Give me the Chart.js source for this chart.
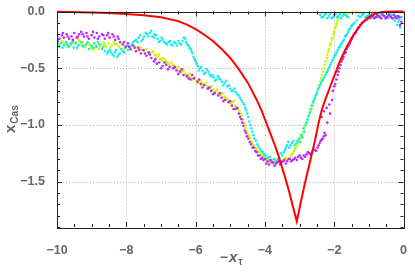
<!DOCTYPE html>
<html>
<head>
<meta charset="UTF-8">
<script src="https://cdn.jsdelivr.net/npm/chart.js@4.4.1/dist/chart.umd.min.js"></script>
<style>
  body { margin: 0; background: #fff; }
  canvas { display: block; }
</style>
</head>
<body>
<canvas id="mychart" width="415" height="274"></canvas>
<script>
// tick values
const xTicks = [-10, -8, -6, -4, -2, 0];
const yTicks = [0, -0.5, -1, -1.5];

// red curve
const curveX = [-10, -9, -8.5, -8, -7.5, -7, -6.5, -6.25, -6, -5.75, -5.5, -5.25, -5, -4.75, -4.5, -4.25, -4.1, -4, -3.9, -3.8, -3.7, -3.6, -3.5, -3.4, -3.3, -3.2, -3.08,
  -2.95, -2.85, -2.75, -2.65, -2.55, -2.45, -2.35, -2.25, -2.15, -2.05, -1.95, -1.85, -1.75, -1.65, -1.5, -1.35, -1.2, -1.05, -0.9, -0.75, -0.6, -0.4, 0];
const curveY = [-0.003, -0.008, -0.014, -0.022, -0.033, -0.05, -0.085, -0.115, -0.155, -0.205, -0.26, -0.33, -0.41, -0.51, -0.625, -0.77, -0.87, -0.95, -1.03, -1.11, -1.19, -1.28, -1.38, -1.48, -1.59, -1.71, -1.85,
  -1.66, -1.52, -1.39, -1.26, -1.13, -0.98, -0.86, -0.77, -0.69, -0.61, -0.53, -0.45, -0.38, -0.32, -0.235, -0.165, -0.105, -0.06, -0.03, -0.012, -0.004, 0, 0];

// scatter series
const purplePts = [[-10.0,-0.22],[-9.93,-0.24],[-9.86,-0.21],[-9.8,-0.23],[-9.72,-0.2],[-9.65,-0.24],[-9.58,-0.22],[-9.5,-0.19],[-9.43,-0.23],[-9.36,-0.2],[-9.3,-0.18],[-9.22,-0.22],[-9.15,-0.19],[-9.08,-0.24],[-9.0,-0.21],[-8.92,-0.23],[-8.85,-0.19],[-8.78,-0.22],[-8.7,-0.2],[-8.62,-0.24],[-8.55,-0.21],[-8.48,-0.23],[-8.4,-0.2],[-8.32,-0.25],[-8.25,-0.22],[-8.18,-0.27],[-8.1,-0.29],[-8.02,-0.31],[-7.95,-0.28],[-7.88,-0.33],[-7.8,-0.3],[-7.72,-0.35],[-7.65,-0.32],[-7.58,-0.37],[-7.5,-0.34],[-7.42,-0.39],[-7.35,-0.36],[-7.28,-0.41],[-7.2,-0.44],[-7.12,-0.46],[-7.05,-0.45],[-6.95,-0.48],[-6.85,-0.47],[-6.75,-0.49],[-6.65,-0.5],[-6.55,-0.52],[-6.45,-0.53],[-6.35,-0.56],[-6.25,-0.57],[-6.15,-0.6],[-6.05,-0.59],[-5.95,-0.62],[-5.85,-0.64],[-5.75,-0.65],[-5.65,-0.68],[-5.55,-0.7],[-5.45,-0.72],[-5.35,-0.74],[-5.25,-0.76],[-5.15,-0.78],[-5.05,-0.8],[-4.95,-0.83],[-4.85,-0.86],[-4.75,-0.9],[-4.68,-0.95],[-4.62,-1.01],[-4.55,-1.07],[-4.48,-1.12],[-4.4,-1.17],[-4.32,-1.2],[-4.24,-1.24],[-4.16,-1.27],[-4.08,-1.29],[-4.0,-1.3],[-3.92,-1.32],[-3.84,-1.31],[-3.76,-1.33],[-3.68,-1.34],[-3.6,-1.32],[-3.52,-1.33],[-3.44,-1.31],[-3.36,-1.32],[-3.28,-1.3],[-3.2,-1.31],[-3.12,-1.29],[-3.04,-1.28],[-2.96,-1.29],[-2.88,-1.27],[-2.8,-1.26],[-2.72,-1.25],[-2.64,-1.24],[-2.56,-1.22],[-2.48,-1.2],[-2.42,-1.16],[-2.36,-1.13],[-2.3,-1.1],[-2.25,-1.09],[-2.36,-0.93],[-2.3,-0.88],[-2.22,-0.85],[-2.14,-0.82],[-2.0,-0.66],[-1.94,-0.6],[-1.88,-0.53],[-1.82,-0.47],[-1.76,-0.42],[-1.7,-0.37],[-1.64,-0.33],[-1.58,-0.3],[-1.52,-0.26],[-1.46,-0.22],[-1.4,-0.19],[-1.34,-0.16],[-1.25,-0.12],[-1.15,-0.09],[-1.05,-0.07],[-0.95,-0.05],[-0.88,-0.04],[-0.8,-0.05],[-0.72,-0.04],[-0.64,-0.06],[-0.56,-0.04],[-0.48,-0.05],[-0.4,-0.04],[-0.32,-0.06],[-0.24,-0.05],[-0.16,-0.04],[-0.1,-0.12],
  [-9.97,-0.25],[-9.83,-0.19],[-9.69,-0.22],[-9.54,-0.25],[-9.4,-0.22],[-9.26,-0.2],[-9.12,-0.22],[-8.96,-0.18],[-8.82,-0.24],[-8.66,-0.21],[-8.52,-0.19],[-8.36,-0.22],[-8.22,-0.24],[-8.06,-0.27],[-7.92,-0.31],[-7.76,-0.32],[-7.62,-0.34],[-7.46,-0.37],[-7.32,-0.38],[-7.16,-0.42],[-7.0,-0.5],[-6.9,-0.45],[-6.8,-0.51],[-6.6,-0.49],[-6.5,-0.55],[-6.4,-0.51],[-6.2,-0.59],[-6.1,-0.56],[-5.9,-0.6],[-5.8,-0.67],[-5.6,-0.67],[-5.5,-0.73],[-5.3,-0.72],[-5.2,-0.79],[-5.0,-0.79],[-4.9,-0.86],[-4.8,-0.85],[-4.72,-0.93],[-4.65,-0.98],[-4.58,-1.05],[-4.52,-1.1],[-4.44,-1.15],[-4.36,-1.2],[-4.28,-1.23],[-4.2,-1.27],[-4.12,-1.3],[-4.04,-1.31],[-3.96,-1.34],[-3.88,-1.35],[-3.8,-1.33],[-3.72,-1.36],[-3.64,-1.33],[-3.56,-1.35],[-3.48,-1.32],[-3.4,-1.34],[-3.32,-1.3],[-3.24,-1.32],[-3.16,-1.3],[-3.08,-1.31],[-3.0,-1.27],[-2.92,-1.3],[-2.84,-1.28],[-2.76,-1.24],[-2.68,-1.26],[-2.6,-1.22],[-2.52,-1.23],[-2.45,-1.18],[-2.39,-1.14],[-2.33,-1.12],[-2.28,-1.07],[-2.2,-0.98],[-2.12,-0.9],[-2.06,-0.78],[-2.04,-0.7],[-1.97,-0.64],[-1.9,-0.56],[-1.85,-0.5],[-1.79,-0.44],[-1.73,-0.4],[-1.67,-0.36],[-1.61,-0.31],[-1.55,-0.28],[-1.49,-0.24],[-1.43,-0.2],[-1.37,-0.18],[-1.3,-0.14],[-1.2,-0.1],[-1.1,-0.08],[-1.0,-0.06],[-0.92,-0.03],[-0.84,-0.06],[-0.76,-0.03],[-0.68,-0.05],[-0.6,-0.03],[-0.52,-0.06],[-0.44,-0.03],[-0.36,-0.05],[-0.28,-0.03],[-0.2,-0.06],[-0.12,-0.05],[-0.06,-0.09]];

const cyanPts = [[-10,-0.29],[-9.94,-0.31],[-9.88,-0.28],[-9.8,-0.3],[-9.74,-0.27],[-9.66,-0.31],[-9.6,-0.29],[-9.52,-0.32],[-9.46,-0.28],[-9.38,-0.3],[-9.3,-0.27],[-9.24,-0.31],[-9.16,-0.29],[-9.08,-0.33],[-9.0,-0.3],[-8.92,-0.28],[-8.86,-0.31],[-8.78,-0.29],[-8.7,-0.33],[-8.62,-0.35],[-8.55,-0.37],[-8.48,-0.34],[-8.4,-0.38],[-8.33,-0.36],[-8.26,-0.4],[-8.18,-0.37],[-8.1,-0.35],[-8.02,-0.32],[-7.95,-0.34],[-7.88,-0.31],[-7.8,-0.27],[-7.72,-0.25],[-7.64,-0.23],[-7.56,-0.26],[-7.48,-0.22],[-7.4,-0.2],[-7.32,-0.19],[-7.25,-0.22],[-7.18,-0.2],[-7.1,-0.24],[-7.02,-0.26],[-6.94,-0.25],[-6.86,-0.28],[-6.78,-0.27],[-6.7,-0.29],[-6.62,-0.27],[-6.54,-0.3],[-6.46,-0.28],[-6.38,-0.26],[-6.3,-0.24],[-6.24,-0.29],[-6.18,-0.32],[-6.12,-0.35],[-6.06,-0.4],[-6.0,-0.44],[-5.94,-0.48],[-5.88,-0.5],[-5.8,-0.52],[-5.72,-0.54],[-5.64,-0.53],[-5.56,-0.57],[-5.48,-0.58],[-5.4,-0.6],[-5.32,-0.59],[-5.24,-0.62],[-5.16,-0.63],[-5.08,-0.66],[-5.0,-0.68],[-4.92,-0.7],[-4.84,-0.71],[-4.76,-0.74],[-4.68,-0.78],[-4.6,-0.82],[-4.54,-0.87],[-4.48,-0.93],[-4.42,-1.0],[-4.36,-1.06],[-4.3,-1.12],[-4.22,-1.17],[-4.14,-1.21],[-4.06,-1.24],[-3.98,-1.27],[-3.9,-1.29],[-3.82,-1.31],[-3.74,-1.3],[-3.66,-1.32],[-3.58,-1.29],[-3.5,-1.27],[-3.42,-1.22],[-3.36,-1.18],[-3.3,-1.2],[-3.22,-1.16],[-3.14,-1.18],[-3.06,-1.14],[-2.98,-1.15],[-2.92,-1.11],[-2.86,-1.06],[-2.8,-0.98],[-2.74,-0.92],[-2.68,-0.86],[-2.62,-0.8],[-2.56,-0.76],[-2.5,-0.72],[-2.44,-0.67],[-2.38,-0.63],[-2.32,-0.6],[-2.26,-0.56],[-2.2,-0.53],[-2.14,-0.49],[-2.08,-0.45],[-2.02,-0.41],[-1.96,-0.38],[-1.9,-0.34],[-1.84,-0.31],[-1.78,-0.28],[-1.72,-0.25],[-1.66,-0.21],[-1.6,-0.18],[-1.54,-0.15],[-1.48,-0.12],[-1.42,-0.1],[-1.36,-0.08],[-2.4,-0.03],[-2.32,-0.05],[-2.24,-0.02],[-2.16,-0.04],[-2.08,-0.06],[-2.0,-0.03],[-1.92,-0.05],[-1.84,-0.02],[-1.76,-0.04],[-1.68,-0.03],[-1.6,-0.05],[-1.3,-0.04],[-1.2,-0.03],[-1.1,-0.05],[-1.0,-0.03],[-0.9,-0.05],[-0.8,-0.02],[-0.7,-0.04],[-0.6,-0.03],[-0.5,-0.05],[-0.4,-0.02],[-0.3,-0.06],[-0.22,-0.04],[-0.15,-0.09],[-0.1,-0.14],[-0.06,-0.05],
  [-9.97,-0.27],[-9.84,-0.32],[-9.7,-0.29],[-9.56,-0.27],[-9.42,-0.32],[-9.27,-0.3],[-9.12,-0.27],[-8.96,-0.32],[-8.82,-0.27],[-8.66,-0.31],[-8.52,-0.35],[-8.44,-0.36],[-8.36,-0.39],[-8.3,-0.34],[-8.22,-0.38],[-8.14,-0.33],[-8.06,-0.36],[-7.98,-0.3],[-7.84,-0.29],[-7.76,-0.26],[-7.68,-0.27],[-7.6,-0.21],[-7.52,-0.24],[-7.44,-0.19],[-7.36,-0.22],[-7.28,-0.17],[-7.2,-0.23],[-7.14,-0.21],[-7.06,-0.27],[-6.98,-0.23],[-6.9,-0.27],[-6.82,-0.29],[-6.74,-0.26],[-6.66,-0.3],[-6.58,-0.28],[-6.5,-0.26],[-6.42,-0.29],[-6.34,-0.23],[-6.27,-0.27],[-6.2,-0.3],[-6.14,-0.33],[-6.09,-0.37],[-6.03,-0.42],[-5.97,-0.46],[-5.91,-0.52],[-5.84,-0.49],[-5.76,-0.55],[-5.68,-0.51],[-5.6,-0.55],[-5.52,-0.56],[-5.44,-0.61],[-5.36,-0.57],[-5.28,-0.6],[-5.2,-0.65],[-5.12,-0.61],[-5.04,-0.65],[-4.96,-0.7],[-4.88,-0.68],[-4.8,-0.73],[-4.72,-0.76],[-4.64,-0.8],[-4.57,-0.85],[-4.51,-0.9],[-4.45,-0.97],[-4.39,-1.03],[-4.33,-1.09],[-4.26,-1.14],[-4.18,-1.19],[-4.1,-1.23],[-4.02,-1.26],[-3.94,-1.29],[-3.86,-1.28],[-3.78,-1.33],[-3.7,-1.31],[-3.62,-1.3],[-3.54,-1.25],[-3.46,-1.24],[-3.39,-1.2],[-3.33,-1.15],[-3.26,-1.18],[-3.18,-1.14],[-3.1,-1.16],[-3.02,-1.12],[-2.95,-1.09],[-2.89,-1.03],[-2.83,-1.0],[-2.77,-0.95],[-2.71,-0.89],[-2.65,-0.83],[-2.59,-0.78],[-2.53,-0.74],[-2.47,-0.69],[-2.41,-0.65],[-2.35,-0.61],[-2.29,-0.58],[-2.23,-0.54],[-2.17,-0.51],[-2.11,-0.47],[-2.05,-0.43],[-1.99,-0.39],[-1.93,-0.36],[-1.87,-0.32],[-1.81,-0.29],[-1.75,-0.26],[-1.69,-0.22],[-1.63,-0.2],[-1.57,-0.16],[-1.51,-0.13],[-1.45,-0.11],[-2.36,-0.05],[-2.28,-0.03],[-2.2,-0.06],[-2.12,-0.02],[-2.04,-0.05],[-1.96,-0.02],[-1.88,-0.04],[-1.8,-0.06],[-1.72,-0.02],[-1.64,-0.04],[-1.25,-0.05],[-1.15,-0.02],[-1.05,-0.04],[-0.95,-0.06],[-0.85,-0.03],[-0.75,-0.05],[-0.65,-0.02],[-0.55,-0.04],[-0.45,-0.06],[-0.35,-0.03],[-0.26,-0.08],[-0.18,-0.12],[-0.12,-0.07]];

const yellowPts = [[-10,-0.27],[-9.93,-0.3],[-9.86,-0.26],[-9.78,-0.29],[-9.7,-0.31],[-9.62,-0.28],[-9.55,-0.25],[-9.48,-0.27],[-9.4,-0.24],[-9.33,-0.29],[-9.26,-0.27],[-9.18,-0.31],[-9.1,-0.28],[-9.02,-0.32],[-8.95,-0.34],[-8.88,-0.3],[-8.8,-0.33],[-8.72,-0.29],[-8.65,-0.27],[-8.58,-0.31],[-8.5,-0.28],[-8.42,-0.3],[-8.35,-0.27],[-8.28,-0.29],[-8.2,-0.31],[-8.12,-0.28],[-8.05,-0.33],[-7.98,-0.3],[-7.9,-0.32],[-7.82,-0.29],[-7.74,-0.31],[-7.66,-0.34],[-7.58,-0.32],[-7.5,-0.35],[-7.42,-0.33],[-7.34,-0.37],[-7.26,-0.36],[-7.18,-0.38],[-7.1,-0.4],[-7.02,-0.42],[-6.94,-0.41],[-6.86,-0.44],[-6.78,-0.46],[-6.7,-0.45],[-6.62,-0.48],[-6.54,-0.5],[-6.46,-0.52],[-6.38,-0.53],[-6.3,-0.55],[-6.22,-0.56],[-6.14,-0.58],[-6.06,-0.59],[-5.98,-0.61],[-5.9,-0.62],[-5.82,-0.63],[-5.74,-0.64],[-5.66,-0.66],[-5.58,-0.67],[-5.5,-0.69],[-5.42,-0.7],[-5.34,-0.72],[-5.26,-0.73],[-5.18,-0.75],[-5.1,-0.77],[-5.02,-0.79],[-4.94,-0.8],[-4.86,-0.83],[-4.78,-0.86],[-4.7,-0.9],[-4.64,-0.95],[-4.58,-1.0],[-4.52,-1.06],[-4.46,-1.1],[-4.4,-1.14],[-4.32,-1.18],[-4.24,-1.21],[-4.16,-1.24],[-4.08,-1.27],[-4.0,-1.29],[-3.92,-1.31],[-3.84,-1.32],[-3.76,-1.34],[-3.68,-1.33],[-3.6,-1.31],[-3.52,-1.32],[-3.44,-1.3],[-3.36,-1.31],[-3.28,-1.29],[-3.22,-1.26],[-3.16,-1.23],[-3.1,-1.2],[-3.04,-1.16],[-2.98,-1.12],[-2.92,-1.08],[-2.86,-1.03],[-2.8,-0.98],[-2.74,-0.93],[-2.68,-0.88],[-2.62,-0.83],[-2.56,-0.77],[-2.5,-0.71],[-2.44,-0.65],[-2.38,-0.59],[-2.32,-0.53],[-2.27,-0.47],[-2.22,-0.41],[-2.17,-0.35],[-2.12,-0.3],[-2.07,-0.25],[-2.02,-0.2],[-1.97,-0.15],[-1.93,-0.11],[-1.89,-0.07],[-1.86,-0.04],[-1.82,-0.01],[-1.76,-0.01],[-1.68,-0.005],[-1.6,-0.015],[-1.5,-0.01],[-1.4,-0.005],[-1.3,-0.01],[-1.2,-0.015],[-1.0,-0.01],[-0.8,-0.005],[-0.6,-0.01],[-0.4,-0.01],[-0.2,-0.005],[-0.05,-0.01],
  [-9.96,-0.29],[-9.82,-0.27],[-9.66,-0.3],[-9.52,-0.28],[-9.36,-0.26],[-9.22,-0.3],[-9.06,-0.29],[-8.92,-0.32],[-8.76,-0.31],[-8.62,-0.29],[-8.46,-0.32],[-8.32,-0.29],[-8.16,-0.33],[-8.02,-0.31],[-7.86,-0.34],[-7.7,-0.32],[-7.54,-0.34],[-7.38,-0.36],[-7.22,-0.35],[-7.14,-0.39],[-7.06,-0.38],[-6.98,-0.43],[-6.9,-0.42],[-6.82,-0.45],[-6.74,-0.48],[-6.66,-0.47],[-6.58,-0.5],[-6.5,-0.49],[-6.42,-0.54],[-6.34,-0.52],[-6.26,-0.57],[-6.18,-0.55],[-6.1,-0.6],[-6.02,-0.58],[-5.94,-0.63],[-5.86,-0.61],[-5.78,-0.65],[-5.7,-0.63],[-5.62,-0.68],[-5.54,-0.66],[-5.46,-0.71],[-5.38,-0.69],[-5.3,-0.74],[-5.22,-0.72],[-5.14,-0.76],[-5.06,-0.78],[-4.98,-0.81],[-4.9,-0.79],[-4.82,-0.85],[-4.74,-0.88],[-4.67,-0.92],[-4.61,-0.98],[-4.55,-1.03],[-4.49,-1.08],[-4.43,-1.12],[-4.36,-1.16],[-4.28,-1.2],[-4.2,-1.23],[-4.12,-1.26],[-4.04,-1.28],[-3.96,-1.3],[-3.88,-1.33],[-3.8,-1.31],[-3.72,-1.35],[-3.64,-1.32],[-3.56,-1.34],[-3.48,-1.31],[-3.4,-1.29],[-3.32,-1.3],[-3.25,-1.27],[-3.19,-1.25],[-3.13,-1.21],[-3.07,-1.18],[-3.01,-1.14],[-2.95,-1.1],[-2.89,-1.06],[-2.83,-1.01],[-2.77,-0.96],[-2.71,-0.9],[-2.65,-0.86],[-2.59,-0.8],[-2.53,-0.74],[-2.47,-0.68],[-2.41,-0.62],[-2.35,-0.56],[-2.3,-0.5],[-2.25,-0.44],[-2.2,-0.38],[-2.15,-0.33],[-2.1,-0.28],[-2.05,-0.23],[-2.0,-0.18],[-1.95,-0.13],[-1.91,-0.09],[-1.87,-0.05],[-1.84,-0.02]];

const toXY = pts => pts.map(p => ({ x: p[0], y: p[1] }));
const minus = (v, d) => (v < 0 ? '\u2212' : '') + Math.abs(v).toFixed(d);

const labelGray = '#666666';

// frame, inward ticks, dotted grid, axis titles
const framePlugin = {
  id: 'frame',
  beforeDatasetsDraw(chart) {
    const { ctx, chartArea: a, scales: { x, y } } = chart;
    ctx.save();
    ctx.strokeStyle = '#b4b4b4';
    ctx.lineWidth = 1;
    ctx.setLineDash([1, 2]);
    xTicks.forEach(v => {
      const px = Math.round(x.getPixelForValue(v)) + 0.5;
      ctx.beginPath(); ctx.moveTo(px, a.top); ctx.lineTo(px, a.bottom); ctx.stroke();
    });
    yTicks.forEach(v => {
      const py = Math.round(y.getPixelForValue(v)) + 0.5;
      ctx.beginPath(); ctx.moveTo(a.left, py); ctx.lineTo(a.right, py); ctx.stroke();
    });
    ctx.restore();
  },
  afterDraw(chart) {
    const { ctx, chartArea: a, scales: { x, y } } = chart;
    ctx.save();
    ctx.strokeStyle = '#222';
    ctx.lineWidth = 1;
    ctx.strokeRect(Math.round(a.left) + 0.5, Math.round(a.top) + 0.5,
      Math.round(a.right - a.left), Math.round(a.bottom - a.top));
    // x ticks every 0.5, major every 2
    for (let i = 0; i <= 20; i++) {
      const v = -10 + i / 2;
      const px = Math.round(x.getPixelForValue(v)) + 0.5;
      const len = i % 4 === 0 ? 5 : 3;
      ctx.beginPath();
      ctx.moveTo(px, a.bottom); ctx.lineTo(px, a.bottom - len);
      ctx.moveTo(px, a.top); ctx.lineTo(px, a.top + len);
      ctx.stroke();
    }
    for (let i = 0; i <= 19; i++) {
      const v = -i / 10;
      const py = Math.round(y.getPixelForValue(v)) + 0.5;
      const len = i % 5 === 0 ? 5 : 3;
      ctx.beginPath();
      ctx.moveTo(a.left, py); ctx.lineTo(a.left + len, py);
      ctx.moveTo(a.right, py); ctx.lineTo(a.right - len, py);
      ctx.stroke();
    }
    // x title: −x_τ
    ctx.fillStyle = labelGray;
    ctx.textBaseline = 'alphabetic';
    ctx.textAlign = 'left';
    const cx = (a.left + a.right) / 2 + 1;
    ctx.font = 'bold 14px "Liberation Sans"';
    const mW = ctx.measureText('\u2212').width;
    ctx.font = 'bold italic 15px "Liberation Sans"';
    const xW = ctx.measureText('x').width;
    ctx.font = 'bold 10px "Liberation Sans"';
    const tW = ctx.measureText('\u03c4').width;
    let sx = cx - (mW + xW + tW + 2) / 2;
    ctx.font = 'bold 14px "Liberation Sans"';
    ctx.fillText('\u2212', sx, 262);
    ctx.font = 'bold italic 15px "Liberation Sans"';
    ctx.fillText('x', sx + mW + 1, 262);
    ctx.font = 'bold 10px "Liberation Sans"';
    ctx.fillText('\u03c4', sx + mW + xW + 2, 265);
    // y title: x_Cas
    ctx.translate(15, 133);
    ctx.rotate(-Math.PI / 2);
    ctx.font = 'bold 15px "Liberation Sans"';
    ctx.fillText('x', 0, 0);
    const w = ctx.measureText('x').width;
    ctx.font = 'bold 10px "Liberation Sans"';
    ctx.fillText('Cas', w + 1, 3);
    ctx.restore();
  }
};

const scatterSet = (pts, color) => ({
  type: 'scatter',
  data: toXY(pts),
  backgroundColor: color,
  borderWidth: 0,
  pointRadius: 1.3,
  pointHoverRadius: 1.3,
  showLine: false
});

const ctx = document.getElementById('mychart');
new Chart(ctx, {
  type: 'scatter',
  data: {
    datasets: [{
      type: 'line',
      data: curveX.map((v, i) => ({ x: v, y: curveY[i] })),
      borderColor: '#ff0000',
      borderWidth: 2,
      pointRadius: 0,
      tension: 0,
      fill: false,
      clip: 3
    },
      scatterSet(purplePts, 'rgb(190,40,245)'),
      scatterSet(cyanPts, 'rgb(20,235,240)'),
      scatterSet(yellowPts, 'rgb(205,245,0)')
    ]
  },
  options: {
    responsive: false,
    animation: false,
    devicePixelRatio: 1,
    layout: { padding: { top: 9, right: 7, left: 0, bottom: 0 } },
    plugins: { legend: { display: false }, tooltip: { enabled: false } },
    scales: {
      x: {
        type: 'linear',
        min: -10, max: 0,
        afterBuildTicks: s => { s.ticks = xTicks.map(v => ({ value: v })); },
        afterFit: s => { s.height = 47; },
        grid: { display: false },
        border: { display: false },
        ticks: {
          color: labelGray,
          font: { family: '"Liberation Sans"', size: 12.5, weight: 'bold' },
          padding: 8,
          maxRotation: 0,
          callback: v => minus(v, 0)
        }
      },
      y: {
        min: -1.9, max: 0,
        afterBuildTicks: s => { s.ticks = yTicks.map(v => ({ value: v })); },
        afterFit: s => { s.width = 57; },
        grid: { display: false },
        border: { display: false },
        ticks: {
          color: labelGray,
          font: { family: '"Liberation Sans"', size: 12.5, weight: 'bold' },
          padding: 4,
          callback: v => minus(v, 1)
        }
      }
    }
  },
  plugins: [framePlugin]
});
</script>
</body>
</html>
